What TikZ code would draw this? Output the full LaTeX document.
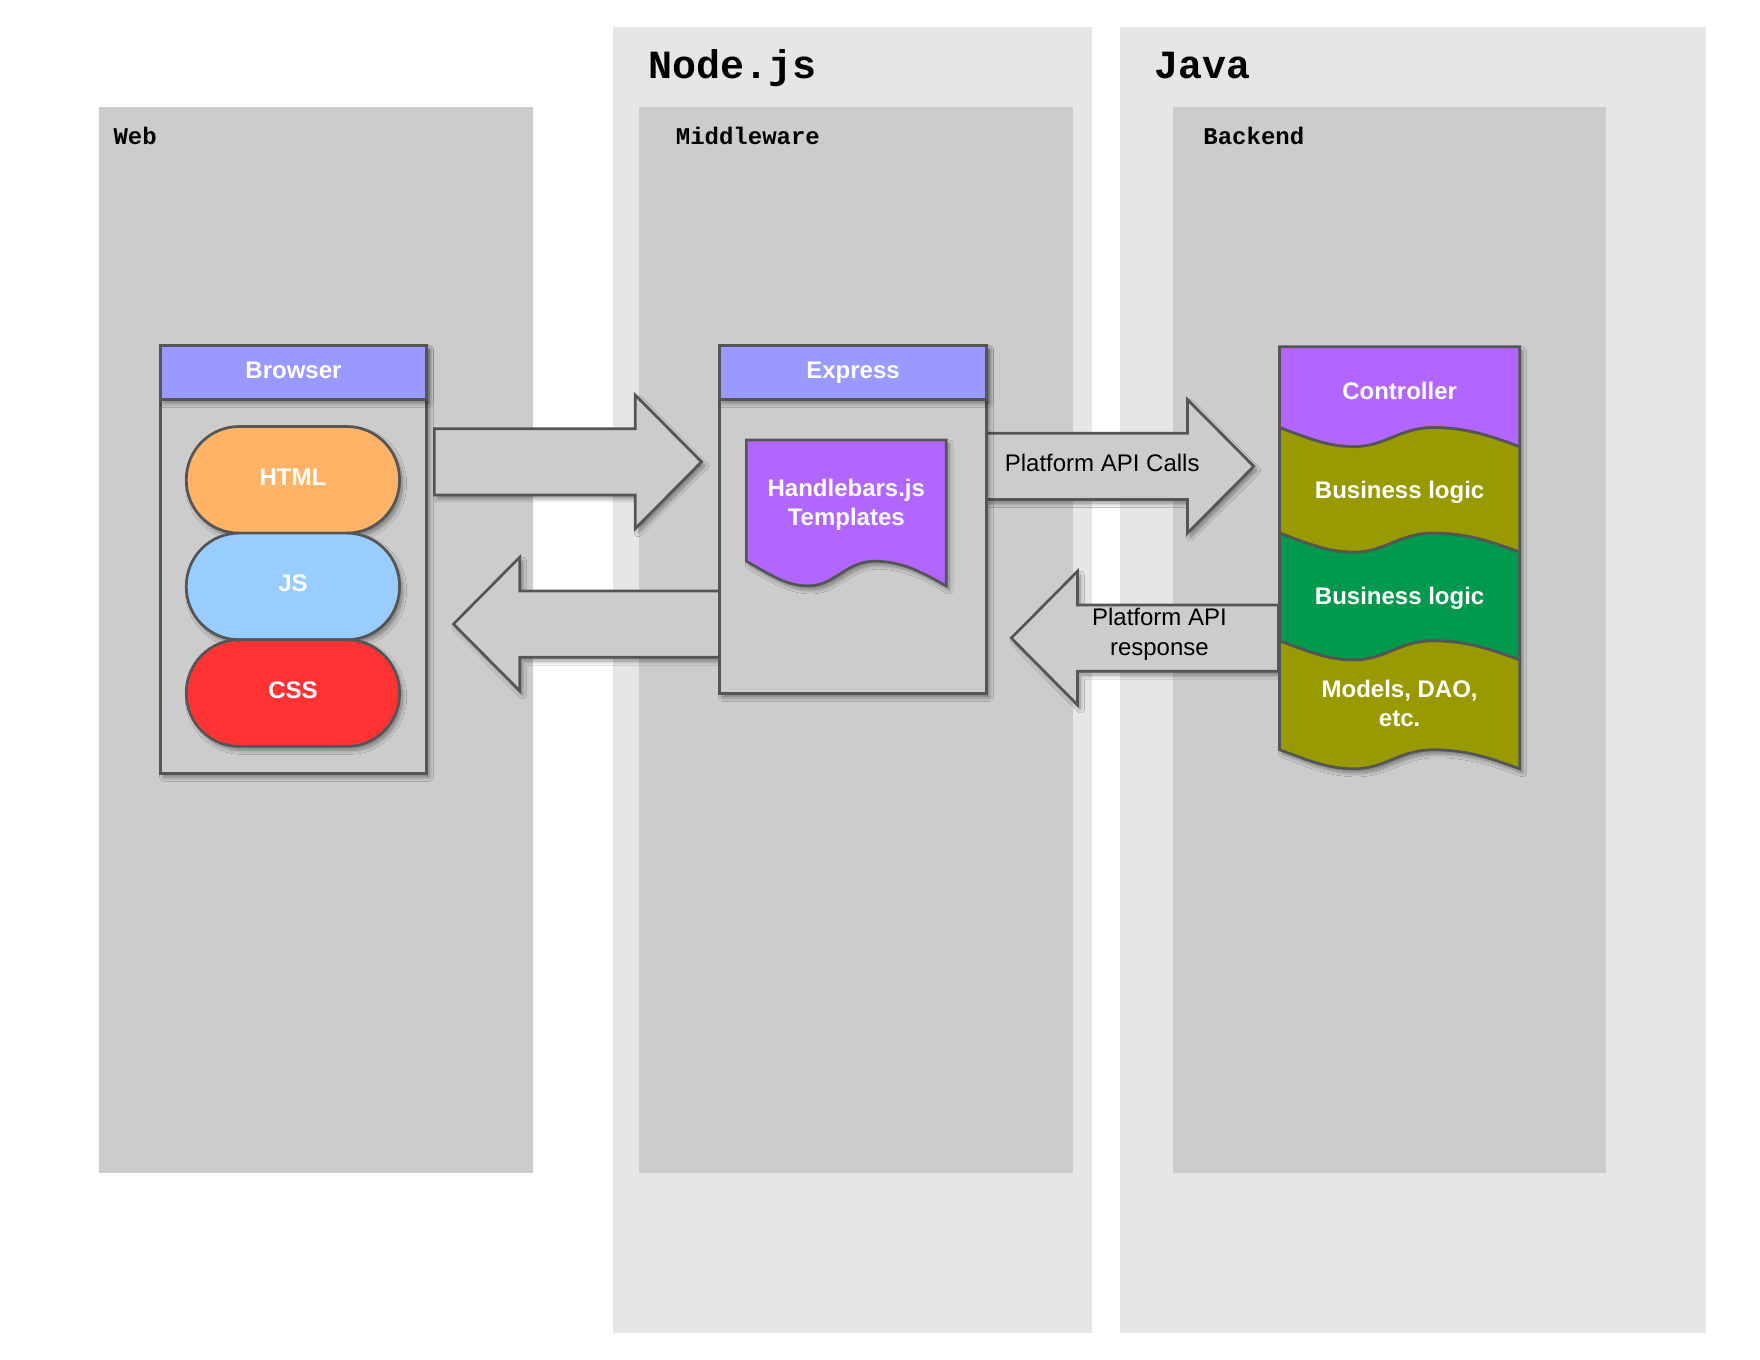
\documentclass[tikz,border=0pt]{standalone}
\usepackage{fontspec}
\setmainfont{Liberation Sans}
\setmonofont{Liberation Mono}
\usetikzlibrary{shadows.blur}

\newlength{\du}
\setlength{\du}{1.1224pt}

\definecolor{outergray}{HTML}{E6E6E6}
\definecolor{innergray}{HTML}{CCCCCC}
\definecolor{edgegray}{HTML}{555555}
\definecolor{headblue}{HTML}{9999FF}
\definecolor{htmlorange}{HTML}{FFB366}
\definecolor{jsblue}{HTML}{99CCFF}
\definecolor{cssred}{HTML}{FF3333}
\definecolor{tplpurple}{HTML}{B266FF}
\definecolor{logicolive}{HTML}{999900}
\definecolor{logicgreen}{HTML}{00994D}

\tikzset{
  softshadow/.style={blur shadow={shadow xshift=3pt, shadow yshift=-4pt,
      shadow blur radius=4pt, shadow blur steps=10, shadow opacity=40}},
  outerlane/.style={fill=outergray},
  innerlane/.style={fill=innergray},
  lanetitle/.style={anchor=base west, inner sep=0pt,
      font=\ttfamily\bfseries\fontsize{40}{44}\selectfont},
  tiertitle/.style={anchor=base west, inner sep=0pt,
      font=\ttfamily\bfseries\fontsize{24}{28}\selectfont},
  whitelabel/.style={text=white, align=center, inner sep=0pt,
      font=\bfseries\fontsize{24}{29}\selectfont},
  flowtext/.style={text=black, align=center, inner sep=0pt,
      font=\fontsize{24}{30}\selectfont},
  partbody/.style={draw=edgegray, line width=2.7pt, fill=innergray, softshadow},
  parthead/.style={partbody, fill=headblue, minimum height=48\du, whitelabel,
      text height=17pt, text depth=5pt},
  pill/.style={draw=edgegray, line width=2.7pt, softshadow, whitelabel,
      text height=17pt, text depth=6pt,
      minimum width=190\du, minimum height=95\du, rounded corners=47\du},
  docshape/.style={draw=edgegray, line width=2.7pt, fill=tplpurple, softshadow},
  stackpart/.style={draw=edgegray, line width=2.7pt},
  flowarrow/.style={draw=edgegray, line width=2.7pt, fill=innergray, softshadow},
  % block arrows: {tail x}{tip x}{mid y}
  blockright/.style n args={3}{insert path={(#1,#3-29.5) -- (#2-59,#3-29.5)
      -- (#2-59,#3-59.5) -- (#2,#3) -- (#2-59,#3+59.5) -- (#2-59,#3+29.5)
      -- (#1,#3+29.5) -- cycle}},
  blockleft/.style n args={3}{insert path={(#1,#3-29.5) -- (#2+59,#3-29.5)
      -- (#2+59,#3-59.5) -- (#2,#3) -- (#2+59,#3+59.5) -- (#2+59,#3+29.5)
      -- (#1,#3+29.5) -- cycle}},
  % wavy edge: {left x}{left y}{width}{depth}
  wavefw/.style n args={4}{insert path={
      .. controls ({#1+0.12*#3},{#2+0.55*#4}) and ({#1+0.2*#3},{#2+#4}) .. ({#1+0.31*#3},{#2+#4})
      .. controls ({#1+0.44*#3},{#2+#4}) and ({#1+0.5*#3},{#2}) .. ({#1+0.64*#3},{#2})
      .. controls ({#1+0.78*#3},{#2}) and ({#1+0.88*#3},{#2+0.45*#4}) .. ({#1+#3},{#2+#4})}},
  wavebw/.style n args={4}{insert path={
      .. controls ({#1+0.88*#3},{#2+0.45*#4}) and ({#1+0.78*#3},{#2}) .. ({#1+0.64*#3},{#2})
      .. controls ({#1+0.5*#3},{#2}) and ({#1+0.44*#3},{#2+#4}) .. ({#1+0.31*#3},{#2+#4})
      .. controls ({#1+0.2*#3},{#2+#4}) and ({#1+0.12*#3},{#2+0.55*#4}) .. (#1,#2)}}
}

\begin{document}
\begin{tikzpicture}[x=\du, y=-\du]
\useasboundingbox (0,0) rectangle (1568.1,1211.7);
\fill[white] (0,0) rectangle (1568.1,1211.7);

% lanes
\fill[outerlane] (546,24) rectangle (973,1188);
\fill[outerlane] (998,24) rectangle (1520,1188);
\fill[innerlane] (88,95) rectangle (475,1045);
\fill[innerlane] (569,95) rectangle (956,1045);
\fill[innerlane] (1045,95) rectangle (1431,1045);
\node[lanetitle] (nodejs) at (578,70) {Node.js};
\node[lanetitle] (java) at (1028,70) {Java};
\node[tiertitle] (web) at (101,129) {Web};
\node[tiertitle] (middleware) at (602,129) {Middleware};
\node[tiertitle] (backend) at (1072,129) {Backend};

% arrows
\path[flowarrow] (387,411.5) [blockright={387}{625}{411.5}];
\path[flowarrow] (641,556) [blockleft={641}{404}{556}];
\path[flowarrow] (879,415.5) [blockright={879}{1117}{415.5}];
\path[flowarrow] (1139,568.5) [blockleft={1139}{901}{568.5}];
\node[flowtext] (apicalls) at (982,412) {Platform API Calls};
\node[flowtext] (apiresp) at (1033,565) {Platform API\\response};

% browser
\node[partbody, minimum width=237\du, minimum height=381\du] (browser) at (261.5,498.5) {};
\node[parthead, minimum width=237\du] (browserhead) at (261.5,332) {Browser};
\node[pill, fill=htmlorange] (html) at (261,427.5) {HTML};
\node[pill, fill=jsblue] (js) at (261,522.5) {JS};
\node[pill, fill=cssred] (css) at (261,617.5) {CSS};

% express
\node[partbody, minimum width=238\du, minimum height=310\du] (express) at (760,463) {};
\node[parthead, minimum width=238\du] (expresshead) at (760,332) {Express};
\path[docshape] (665,392) -- (843,392) -- (843,522) [wavebw={665}{500}{178}{22}] -- cycle;
\node[whitelabel] (templates) at (754,450) {Handlebars.js\\Templates};

% java stack
\path[fill=logicolive, softshadow] (1140,309) -- (1354,309) -- (1354,685) [wavebw={1140}{668}{214}{17}] -- cycle;
\path[stackpart, fill=tplpurple] (1140,309) -- (1354,309) -- (1354,398) [wavebw={1140}{381}{214}{17}] -- cycle;
\path[stackpart, fill=logicolive] (1140,381) [wavefw={1140}{381}{214}{17}] -- (1354,492) [wavebw={1140}{475}{214}{17}] -- cycle;
\path[stackpart, fill=logicgreen] (1140,475) [wavefw={1140}{475}{214}{17}] -- (1354,588) [wavebw={1140}{571}{214}{17}] -- cycle;
\path[stackpart, fill=logicolive] (1140,571) [wavefw={1140}{571}{214}{17}] -- (1354,685) [wavebw={1140}{668}{214}{17}] -- cycle;
\node[whitelabel] (controller) at (1247,348) {Controller};
\node[whitelabel] (logica) at (1247,438.5) {Business logic};
\node[whitelabel] (logicb) at (1247,533.5) {Business logic};
\node[whitelabel] (models) at (1247,627) {Models, DAO,\\etc.};
\end{tikzpicture}
\end{document}
